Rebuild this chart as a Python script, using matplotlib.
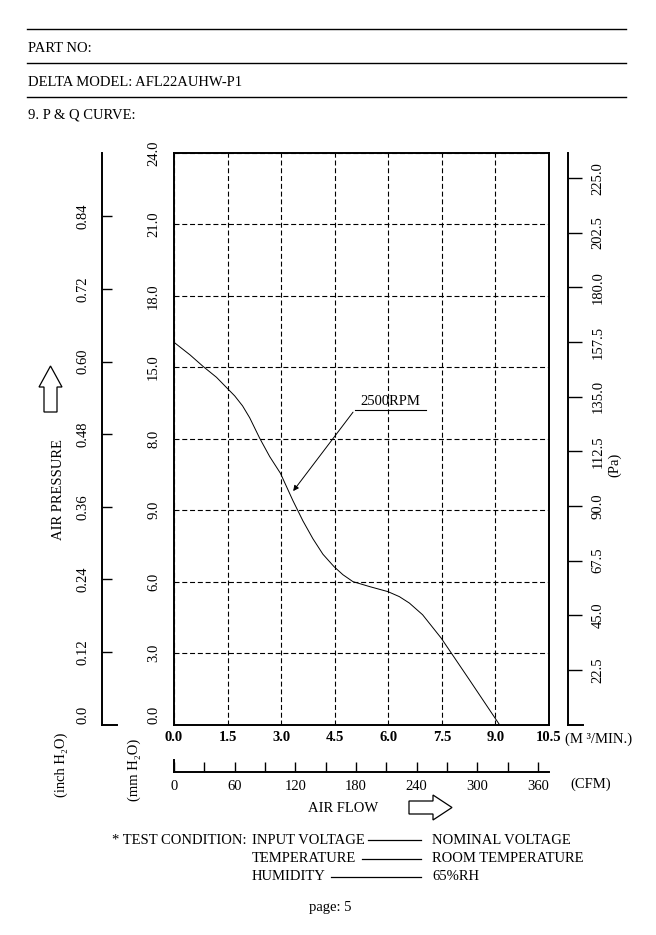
import numpy as np
import matplotlib
matplotlib.use('Agg')
from matplotlib import pyplot as plt
from matplotlib.patches import Polygon

plt.rcParams['font.family'] = ['Liberation Serif', 'DejaVu Serif']

# P-Q curve (flow in m3/min, pressure in mm H2O)
flow_cmm = [0.0, 0.45, 0.82, 1.19, 1.49, 1.70, 1.92, 2.12, 2.40, 2.68, 2.98, 3.33, 3.61,
            3.89, 4.17, 4.48, 4.73, 5.01, 5.48, 5.99, 6.31, 6.59, 6.96, 7.48, 8.27, 9.11]
pressure_mm = [16.05, 15.52, 15.03, 14.58, 14.12, 13.80, 13.38, 12.88, 12.02, 11.25, 10.55, 9.40,
               8.55, 7.80, 7.15, 6.63, 6.29, 6.00, 5.79, 5.58, 5.37, 5.10, 4.61, 3.63, 1.88, 0.0]
curve_label = '2500RPM'

x_ticks = [0.0, 1.5, 3.0, 4.5, 6.0, 7.5, 9.0, 10.5]
mm_ticks = [0.0, 3.0, 6.0, 9.0, 12.0, 15.0, 18.0, 21.0, 24.0]
# labels as printed on the sheet (12.0 is printed as 8.0)
mm_labels = ['0.0', '3.0', '6.0', '9.0', '8.0', '15.0', '18.0', '21.0', '24.0']
inch_ticks = [0.0, 0.12, 0.24, 0.36, 0.48, 0.60, 0.72, 0.84]
pa_ticks = [22.5, 45.0, 67.5, 90.0, 112.5, 135.0, 157.5, 180.0, 202.5, 225.0]
cfm_major = [0, 60, 120, 180, 240, 300, 360]
cfm_minor = [30, 90, 150, 210, 270, 330]

header = ['PART NO:', 'DELTA MODEL: AFL22AUHW-P1', '9. P & Q CURVE:']
cond_left = ['INPUT VOLTAGE', 'TEMPERATURE', 'HUMIDITY']
cond_right = ['NOMINAL VOLTAGE', 'ROOM TEMPERATURE', '65%RH']

W, H = 656, 935
fig = plt.figure(figsize=(W / 100, H / 100), dpi=100)


def rect(x0, y0, x1, y1):
    # pixel box (top-left origin) -> figure fraction
    return [x0 / W, 1 - y1 / H, (x1 - x0) / W, (y1 - y0) / H]


# overlay for the page decoration
ov = fig.add_axes([0, 0, 1, 1])
ov.set_xlim(0, W)
ov.set_ylim(H, 0)
ov.axis('off')

for yl in [28.5, 62.5, 96.5]:
    ov.plot([27, 626], [yl, yl], color='k', lw=1.0)
for txt, yt in zip(header, [48.5, 82, 115]):
    ov.text(28, yt, txt, fontsize=10.5, va='center', ha='left')

L, R, T, B = 174, 549, 153, 724.5
tick_fs = 10.5

# main plot
ax = fig.add_axes(rect(L, T, R, B))
ax.plot(flow_cmm, pressure_mm, color='k', lw=0.7)
ax.set_xlim(0, 10.5)
ax.set_ylim(0, 24)
ax.set_xticks(x_ticks)
ax.set_xticklabels(['%.1f' % v for v in x_ticks], fontsize=tick_fs, fontweight='bold')
ax.set_yticks(mm_ticks)
ax.set_yticklabels(mm_labels, fontsize=tick_fs, rotation=90, va='center')
ax.tick_params(length=0)
ax.tick_params(axis='x', pad=5)
ax.tick_params(axis='y', pad=10)
ax.yaxis.get_ticklabels()[0].set_va('bottom')
ax.grid(True, color='k', lw=0.8, linestyle=(0, (4.5, 2.5)))
for s in ax.spines.values():
    s.set_linewidth(1.4)

ax.annotate('', xy=(3.29, 9.71), xytext=(5.06, 13.21),
            arrowprops=dict(arrowstyle='-|>', lw=0.7, color='k', mutation_scale=8))
ax.plot([5.06, 7.06], [13.21, 13.21], color='k', lw=0.8)
ax.text(6.06, 13.3, curve_label, fontsize=10.5, ha='center', va='bottom')

# inch H2O scale
ai = fig.add_axes(rect(102.3, T, 117.3, B))
ai.set_xlim(0, 1)
ai.set_ylim(0, 24 / 25.4)
ai.set_xticks([])
ai.set_yticks(inch_ticks)
ai.set_yticklabels(['%.2f' % v if v else '0.0' for v in inch_ticks],
                   fontsize=tick_fs, rotation=90, va='center')
ai.tick_params(axis='y', direction='in', length=7, width=1.0, pad=9)
ai.yaxis.get_ticklabels()[0].set_va('bottom')
ai.yaxis.get_ticklines()[0].set_visible(False)
ai.patch.set_visible(False)
for k in ['top', 'right']:
    ai.spines[k].set_visible(False)
for k in ['left', 'bottom']:
    ai.spines[k].set_linewidth(1.4)

# Pa scale
ap = fig.add_axes(rect(568.3, T, 583.3, B))
ap.set_xlim(0, 1)
ap.set_ylim(0, 24 * 9.80665)
ap.set_xticks([])
ap.set_yticks(pa_ticks)
ap.set_yticklabels(['%.1f' % v for v in pa_ticks], fontsize=tick_fs, rotation=90, va='center')
ap.tick_params(axis='y', direction='in', length=10, width=1.0, left=True, right=False,
               labelleft=False, labelright=True, pad=6)
ap.patch.set_visible(False)
for k in ['top', 'right']:
    ap.spines[k].set_visible(False)
for k in ['left', 'bottom']:
    ap.spines[k].set_linewidth(1.4)

# CFM scale
ac = fig.add_axes(rect(L, 759.7, R, 771.7))
ac.set_xlim(0, 10.5 * 35.3147)
ac.set_ylim(0, 1)
ac.set_yticks([])
ac.set_xticks(cfm_major)
ac.set_xticks(cfm_minor, minor=True)
ac.set_xticklabels([str(v) for v in cfm_major], fontsize=tick_fs)
ac.tick_params(axis='x', which='both', direction='in', length=7, width=1.0, pad=6)
ac.patch.set_visible(False)
for k in ['top', 'right']:
    ac.spines[k].set_visible(False)
for k in ['left', 'bottom']:
    ac.spines[k].set_linewidth(1.4)

# axis captions
ov.text(565, 739, '(M \u00b3/MIN.)', fontsize=10.5, ha='left', va='center')
ov.text(570, 784, '(CFM)', fontsize=10.5, ha='left', va='center')
ov.text(615, 465, '(Pa)', fontsize=10.5, ha='center', va='center', rotation=90)
ov.text(58, 490, 'AIR PRESSURE', fontsize=10.5, ha='center', va='center', rotation=90)
ov.text(61, 765, '(inch H\u2082O)', fontsize=10.5, ha='center', va='center', rotation=90)
ov.text(134, 770, '(mm H\u2082O)', fontsize=10.5, ha='center', va='center', rotation=90)
ov.text(343, 808, 'AIR FLOW', fontsize=10.5, ha='center', va='center')

# hollow arrows
up = [(44, 412), (57, 412), (57, 387), (62, 387), (50.5, 366), (39, 387), (44, 387)]
ov.add_patch(Polygon(up, closed=True, fill=False, ec='k', lw=0.9))
right = [(409, 801), (433, 801), (433, 795), (452, 807.5), (433, 820), (433, 814), (409, 814)]
ov.add_patch(Polygon(right, closed=True, fill=False, ec='k', lw=0.9))

# test condition
rows_y = [840, 858.5, 877]
ov.text(247, rows_y[0], '* TEST CONDITION:', fontsize=10.5, ha='right', va='center')
line_x0 = [368, 362, 331]
for txt, txt2, yy, x0 in zip(cond_left, cond_right, rows_y, line_x0):
    ov.text(252, yy, txt, fontsize=10.5, ha='left', va='center')
    ov.plot([x0, 421], [yy, yy], color='k', lw=0.9)
    ov.text(432, yy, txt2, fontsize=10.5, ha='left', va='center')

ov.text(330, 908, 'page: 5', fontsize=10.5, ha='center', va='center')

fig.savefig('out.png', dpi=100)
